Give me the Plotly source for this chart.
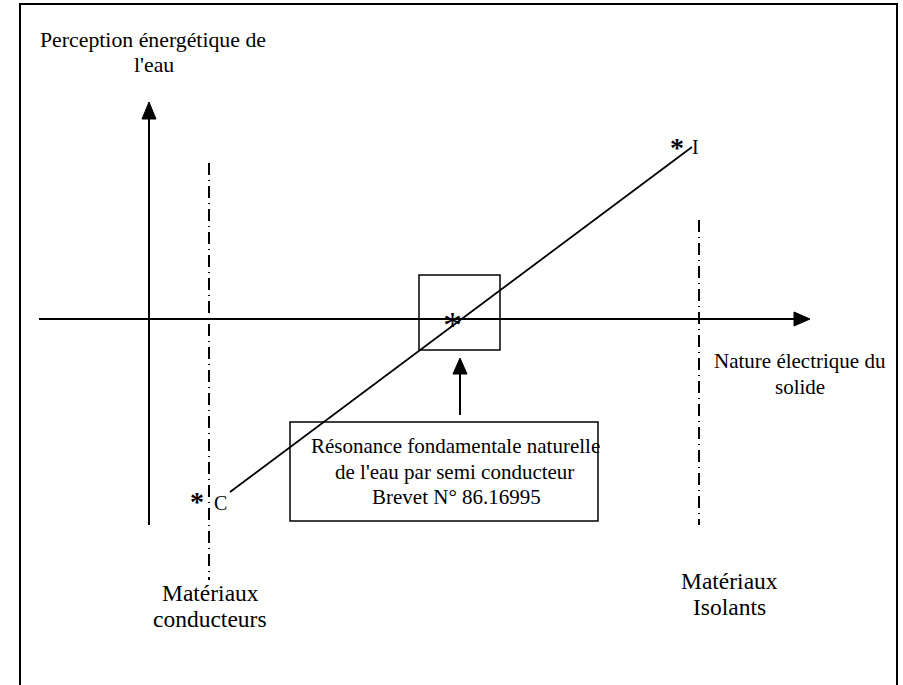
import plotly.graph_objects as go

# Schematic coordinates (diagram units = pixels of the drawing)
axis_origin = (149, 319)
x_axis_ends = [39, 810]
y_axis_ends = [525, 102]
line_C_I_x = [230, 692]
line_C_I_y = [492, 147]
point_labels = ["C", "I"]
center_point = (452, 319)
conducteur_x = 209
conducteur_y = [163, 580]
isolant_x = 699
isolant_y = [220, 525]
box_resonance = [419, 275, 500, 350]
text_box = [290, 422, 598, 521]
frame = [20, 4, 897, 700]

FONT = "Liberation Serif"
fig = go.Figure()

shapes = []
shapes.append(dict(type="rect", x0=frame[0], y0=frame[1], x1=frame[2], y1=frame[3],
                   line=dict(color="black", width=2)))
shapes.append(dict(type="line", x0=x_axis_ends[0], y0=axis_origin[1], x1=x_axis_ends[1] - 12, y1=axis_origin[1],
                   line=dict(color="black", width=2)))
shapes.append(dict(type="path", path=f"M {x_axis_ends[1]},{axis_origin[1]} L {x_axis_ends[1]-16},{axis_origin[1]-7} L {x_axis_ends[1]-16},{axis_origin[1]+7} Z",
                   fillcolor="black", line=dict(color="black", width=1)))
shapes.append(dict(type="line", x0=axis_origin[0], y0=y_axis_ends[0], x1=axis_origin[0], y1=y_axis_ends[1] + 12,
                   line=dict(color="black", width=2)))
shapes.append(dict(type="path", path=f"M {axis_origin[0]},{y_axis_ends[1]} L {axis_origin[0]-7},{y_axis_ends[1]+17} L {axis_origin[0]+7},{y_axis_ends[1]+17} Z",
                   fillcolor="black", line=dict(color="black", width=1)))
for xv, ys in [(conducteur_x, conducteur_y), (isolant_x, isolant_y)]:
    shapes.append(dict(type="line", x0=xv, y0=ys[0], x1=xv, y1=ys[1],
                       line=dict(color="black", width=2, dash="12px,5px,1px,5px")))
shapes.append(dict(type="line", x0=line_C_I_x[0], y0=line_C_I_y[0], x1=line_C_I_x[1], y1=line_C_I_y[1],
                   line=dict(color="black", width=1.8)))
shapes.append(dict(type="rect", x0=box_resonance[0], y0=box_resonance[1], x1=box_resonance[2], y1=box_resonance[3],
                   line=dict(color="black", width=1.5)))
ax_x = (box_resonance[0] + box_resonance[2]) / 2 + 0.5
shapes.append(dict(type="line", x0=ax_x, y0=text_box[1] - 7, x1=ax_x, y1=box_resonance[3] + 20,
                   line=dict(color="black", width=2)))
shapes.append(dict(type="path", path=f"M {ax_x},{box_resonance[3]+8} L {ax_x-7},{box_resonance[3]+24} L {ax_x+7},{box_resonance[3]+24} Z",
                   fillcolor="black", line=dict(color="black", width=1)))
shapes.append(dict(type="rect", x0=text_box[0], y0=text_box[1], x1=text_box[2], y1=text_box[3],
                   line=dict(color="black", width=1.5)))

fig.update_layout(shapes=shapes)

def txt(x, y, s, size=21, anchor="center"):
    fig.add_annotation(x=x, y=y, text=s, showarrow=False, xanchor=anchor, yanchor="middle",
                       font=dict(family=FONT, size=size, color="black"))

txt(153, 40, "Perception énergétique de", 21.8)
txt(154, 65, "l'eau", 21.8)
txt(800, 361, "Nature électrique du", 21)
txt(800, 387, "solide", 21)
txt(210, 593, "Matériaux", 23.5)
txt(210, 619, "conducteurs", 23.5)
txt(729, 581, "Matériaux", 23.5)
txt(729, 607, "Isolants", 23.5)
txt(455, 446, "Résonance fondamentale naturelle", 21)
txt(454, 472, "de l'eau par semi conducteur", 21)
txt(456, 497, "Brevet N° 86.16995", 21)

txt(line_C_I_x[0] - 33, 501, "<b>*</b>", 28)
txt(line_C_I_x[0] - 10, 503, point_labels[0], 20)
txt(line_C_I_x[1] - 15, 147, "<b>*</b>", 28)
txt(line_C_I_x[1] + 3, 147, point_labels[1], 20)
txt(center_point[0], center_point[1] + 6, "*", 38)

fig.update_layout(
    width=903, height=685,
    margin=dict(l=0, r=0, t=0, b=0),
    paper_bgcolor="white", plot_bgcolor="white",
    xaxis=dict(range=[0, 903], visible=False, fixedrange=True),
    yaxis=dict(range=[685, 0], visible=False, fixedrange=True),
    showlegend=False,
)
fig.write_html(
    "out.html",
    config={"displayModeBar": False},
    post_script="document.body.style.margin='0';document.body.style.overflow='hidden';",
)
